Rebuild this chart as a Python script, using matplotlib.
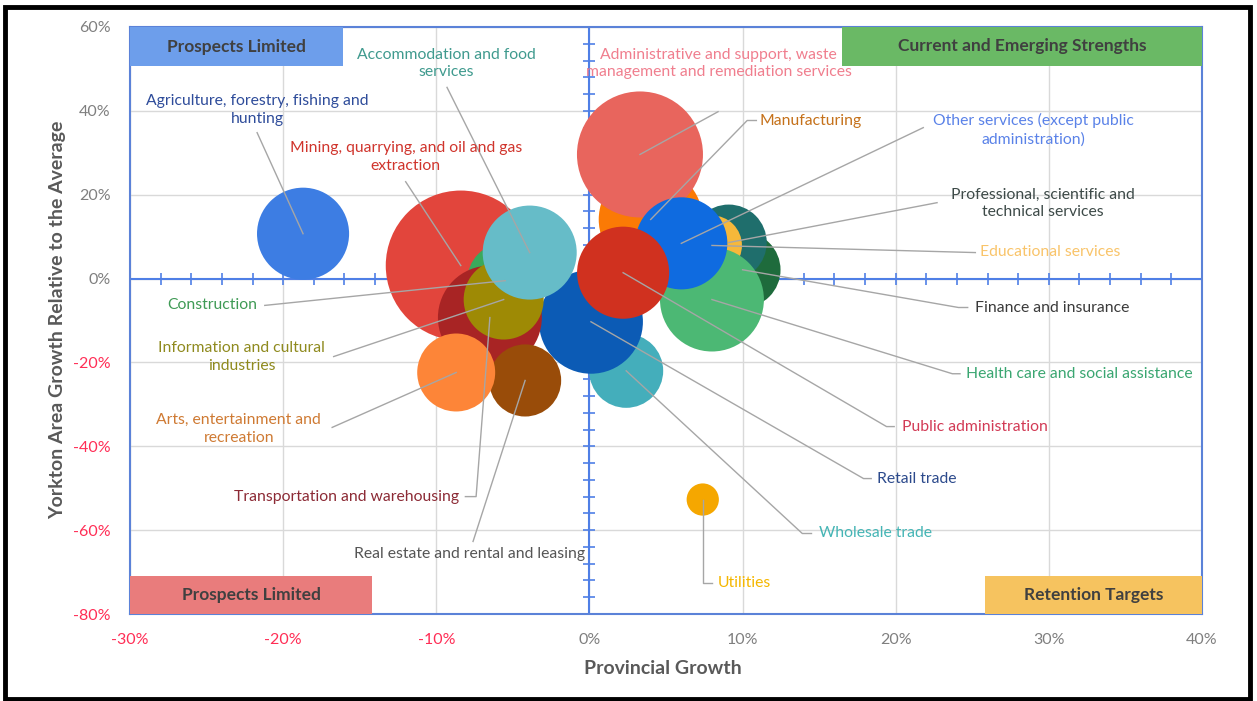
import numpy as np
import matplotlib
matplotlib.use("Agg")
import matplotlib.pyplot as plt
from matplotlib.patches import Rectangle

plt.rcParams['font.family'] = ['Lato', 'DejaVu Sans']

# ---------------- data ----------------
industries = [
    "Agriculture, forestry, fishing and\nhunting",
    "Mining, quarrying, and oil and gas\nextraction",
    "Utilities",
    "Construction",
    "Manufacturing",
    "Wholesale trade",
    "Retail trade",
    "Transportation and warehousing",
    "Information and cultural\nindustries",
    "Finance and insurance",
    "Real estate and rental and leasing",
    "Professional, scientific and\ntechnical services",
    "Administrative and support, waste\nmanagement and remediation services",
    "Educational services",
    "Health care and social assistance",
    "Arts, entertainment and\nrecreation",
    "Accommodation and food\nservices",
    "Other services (except public\nadministration)",
    "Public administration",
]
provincial_growth = [-18.7, -8.4, 7.4, -5.5, 4.0, 2.4, 0.1, -6.5, -5.6, 10.0,
                     -4.2, 9.1, 3.3, 8.0, 8.0, -8.7, -3.9, 6.0, 2.2]
relative_growth = [10.7, 3.1, -52.7, -0.5, 14.1, -22.0, -10.3, -9.3, -5.0, 2.1,
                   -24.3, 8.6, 29.6, 7.9, -5.0, -22.4, 6.2, 8.4, 1.4]
bubble_size = [21.2, 56.3, 2.6, 14.4, 27.0, 13.7, 27.0, 27.0, 16.0, 14.4,
               13.0, 14.4, 39.7, 9.0, 27.0, 15.2, 22.1, 21.2, 21.2]

x_ticks = [-30, -20, -10, 0, 10, 20, 30, 40]
y_ticks = [-80, -60, -40, -20, 0, 20, 40, 60]

quadrants = ["Prospects Limited", "Current and Emerging Strengths",
             "Prospects Limited", "Retention Targets"]

# ---------------- styles / layout ----------------
bubble_colors = ["#3d7de3", "#e2453c", "#f5a700", "#3aa95c", "#fb7a05", "#44aebb",
                 "#0c5bb5", "#a82424", "#9e8a05", "#1e6b3c", "#994c09", "#1f6e6c",
                 "#e8655d", "#f6b83a", "#4cb874", "#fd8538", "#66bcc8", "#0f6be0",
                 "#d0311f"]
label_colors = ["#2e4c9a", "#d0342c", "#f5b700", "#3f9a55", "#c5711a", "#45b5b5",
                "#2c4a8c", "#8c2a35", "#8f8a1e", "#3a3a3a", "#555555", "#3d4a48",
                "#f07e8e", "#f9c46a", "#3aa671", "#cf7a33", "#3f9a8e", "#5a82e8",
                "#d23a55"]
# (text x, text y, ha, leader path points before the bubble centre)
label_layout = [
    (-21.7, 40.3, "center", [(-21.7, 34.8)]),
    (-12.0, 28.9, "center", [(-12.0, 23.1)]),
    (8.4, -72.7, "left", [(8.0, -72.7), (7.4, -72.7)]),
    (-21.7, -6.4, "right", [(-21.2, -6.4)]),
    (11.1, 37.7, "left", [(10.9, 37.7), (10.3, 37.7)]),
    (15.0, -60.8, "left", [(14.5, -60.8), (13.9, -60.8)]),
    (18.8, -47.7, "left", [(18.4, -47.7), (17.9, -47.7)]),
    (-8.5, -52.0, "right", [(-8.1, -52.0), (-7.4, -52.0)]),
    (-22.7, -18.8, "center", [(-16.7, -18.6)]),
    (25.2, -6.9, "left", [(24.7, -6.9), (24.1, -6.9)]),
    (-7.8, -65.8, "center", [(-7.6, -62.7)]),
    (29.6, 17.9, "center", [(22.7, 18.1)]),
    (8.45, 51.3, "center", [(8.4, 39.8)]),
    (30.1, 6.4, "center", [(25.2, 6.2)]),
    (24.6, -22.7, "left", [(24.2, -22.7), (23.7, -22.7)]),
    (-22.9, -35.8, "center", [(-16.8, -35.5)]),
    (-9.35, 51.3, "center", [(-9.3, 45.6)]),
    (29.0, 35.5, "center", [(21.8, 36.0)]),
    (20.4, -35.3, "left", [(19.9, -35.3), (19.4, -35.3)]),
]
quad_boxes = [((-30, 50.6), 13.9, 9.4, "#6d9eeb"),
              ((16.5, 50.8), 23.5, 9.2, "#6ab965"),
              ((-30, -80), 15.8, 9.1, "#e97c7c"),
              ((25.8, -80), 14.2, 9.0, "#f6c35f")]

W, H = 1257, 701
fig = plt.figure(figsize=(W / 100, H / 100), dpi=100)
fig.patch.set_facecolor("white")
ax = fig.add_axes([130 / W, 1 - 614 / H, (1202 - 130) / W, (614 - 27) / H])
ax.set_xlim(-30, 40)
ax.set_ylim(-80, 60)

grid_c = "#d9d9d9"
for xv in x_ticks:
    ax.axvline(xv, color=grid_c, lw=1.0, zorder=0)
for yv in y_ticks:
    ax.axhline(yv, color=grid_c, lw=1.0, zorder=0)

axis_blue = "#4f7fe6"
for s in ax.spines.values():
    s.set_color("#5b82d8")
    s.set_linewidth(1.5)
ax.axhline(0, color=axis_blue, lw=1.5, zorder=1)
ax.axvline(0, color=axis_blue, lw=1.5, zorder=1)
minor_x = np.arange(-30, 41, 2)
minor_y = np.arange(-80, 61, 4)
ax.plot(minor_x, np.zeros_like(minor_x), ls="none", marker="|", ms=8,
        mew=1.2, color=axis_blue, zorder=1)
ax.plot(np.zeros_like(minor_y), minor_y, ls="none", marker="_", ms=9,
        mew=1.2, color=axis_blue, zorder=1)

# bubbles in series order
sizes_pt2 = [(2 * 10 * np.sqrt(b) * 0.72) ** 2 for b in bubble_size]
for i in range(len(industries)):
    ax.scatter(provincial_growth[i], relative_growth[i], s=sizes_pt2[i],
               color=bubble_colors[i], edgecolors="none", zorder=2 + i * 0.01)

# leader lines and labels
for i, (tx, ty, ha, path) in enumerate(label_layout):
    pts = path + [(provincial_growth[i], relative_growth[i])]
    xs = [p[0] for p in pts]
    ys = [p[1] for p in pts]
    ax.plot(xs, ys, color="#a6a6a6", lw=1.0, zorder=3)
    ax.text(tx, ty, industries[i], ha=ha, va="center", fontsize=11.3,
            color=label_colors[i], linespacing=1.35, zorder=4,
            multialignment="center")

# quadrant boxes
for (xy, w, h, c), t in zip(quad_boxes, quadrants):
    ax.add_patch(Rectangle(xy, w, h, facecolor=c, edgecolor="none",
                           zorder=5, clip_on=False))
    ax.text(xy[0] + w / 2, xy[1] + h / 2, t, ha="center", va="center",
            fontsize=12.5, fontweight="bold", color="#404040", zorder=6)

ax.set_xticks(x_ticks)
ax.set_yticks(y_ticks)
ax.set_xticklabels([f"{v}%" for v in x_ticks])
ax.set_yticklabels([f"{v}%" for v in y_ticks])
ax.tick_params(length=0, labelsize=11.5)
ax.tick_params(axis="x", pad=14)
ax.tick_params(axis="y", pad=14)
for lab, v in zip(ax.get_xticklabels(), x_ticks):
    lab.set_color("#ff2d55" if v < 0 else "#7f7f7f")
for lab, v in zip(ax.get_yticklabels(), y_ticks):
    lab.set_color("#ff2d55" if v < 0 else "#7f7f7f")

fig.text(663 / W, 1 - 668 / H, "Provincial Growth", ha="center", va="center",
         fontsize=14, fontweight="bold", color="#595959")
fig.text(58 / W, 1 - 320 / H, "Yorkton Area Growth Relative to the Average",
         ha="center", va="center", rotation=90, fontsize=14,
         fontweight="bold", color="#595959")

fig.patches.append(Rectangle((5 / W, 1 - 699 / H), 1245 / W, 692 / H,
                             transform=fig.transFigure, fill=False,
                             edgecolor="black", lw=3.5))

fig.savefig("out.png", dpi=100)
